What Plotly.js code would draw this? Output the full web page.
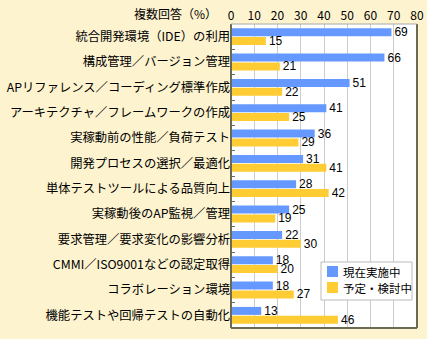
<!DOCTYPE html>
<html><head><meta charset="utf-8">
<script src="https://cdn.plot.ly/plotly-3.0.1.min.js"></script>
<style>html,body{margin:0;padding:0;background:#fdf3cf;}</style>
</head><body><div id="chart" style="width:427px;height:339px;"></div>
<script>
const categories = ["統合開発環境（IDE）の利用","構成管理／バージョン管理","APリファレンス／コーディング標準作成","アーキテクチャ／フレームワークの作成","実稼動前の性能／負荷テスト","開発プロセスの選択／最適化","単体テストツールによる品質向上","実稼動後のAP監視／管理","要求管理／要求変化の影響分析","CMMI／ISO9001などの認定取得","コラボレーション環境","機能テストや回帰テストの自動化"];
const current = [69,66,51,41,36,31,28,25,22,18,18,13];
const planned = [15,21,22,25,29,41,42,19,30,20,27,46];
const seriesNames = ["現在実施中","予定・検討中"];
const seriesColors = ['#6699ff','#ffcc33'];
const xTicks = [0,10,20,30,40,50,60,70,80];
const axisLabel = "複数回答（%）";

const font = "Noto Sans CJK JP, sans-serif";
const numFont = 'Liberation Sans, Arial, sans-serif';
const data = [0,1].map(i => ({
  type:'bar', orientation:'h', name:seriesNames[i], y:categories, x:[current,planned][i],
  text:[current,planned][i].map(String), textposition:'outside', cliponaxis:false, constraintext:'none',
  textfont:{size:12,color:'#000', family:numFont}, marker:{color:seriesColors[i]}
}));

// custom legend placed in paper coords (plot area 231..417 x 24..328 px)
const px = x => (x-231)/186, py = y => (328-y)/304;
const shapes = [
  {type:'rect', xref:'paper', yref:'paper', x0:px(321), x1:px(412), y0:py(300), y1:py(262), fillcolor:'#ffffff', line:{color:'#bbbbbb', width:1}, layer:'above'},
  {type:'rect', xref:'paper', yref:'paper', x0:px(327), x1:px(338), y0:py(277), y1:py(266), fillcolor:seriesColors[0], line:{width:0}, layer:'above'},
  {type:'rect', xref:'paper', yref:'paper', x0:px(327), x1:px(338), y0:py(293), y1:py(282), fillcolor:seriesColors[1], line:{width:0}, layer:'above'},
  {type:'line', xref:'paper', yref:'paper', x0:0, x1:0, y0:0, y1:1, line:{color:'#6b6b55', width:2}},
  {type:'line', xref:'paper', yref:'paper', x0:0, x1:1, y0:0, y1:0, line:{color:'#6b6b55', width:2}},
  {type:'line', xref:'paper', yref:'paper', x0:1, x1:1, y0:0, y1:1, line:{color:'#6b6b55', width:2}},
  {type:'line', xref:'paper', yref:'paper', x0:0, x1:1, y0:1, y1:1, line:{color:'#aaaaaa', width:1}}
];
const annotations = [
  {xref:'paper', yref:'paper', x:0, y:1, xanchor:'right', yanchor:'middle', yshift:11, xshift:-12,
   text:axisLabel, showarrow:false, font:{size:12, family:font}},
  {xref:'paper', yref:'paper', x:px(341), y:py(271.5), xanchor:'left', yanchor:'middle', text:seriesNames[0], showarrow:false, font:{size:11.5, family:font}},
  {xref:'paper', yref:'paper', x:px(341), y:py(287.5), xanchor:'left', yanchor:'middle', text:seriesNames[1], showarrow:false, font:{size:11.5, family:font}}
];

const layout = {
  width:427, height:339,
  margin:{l:231, r:10, t:24, b:11, autoexpand:false},
  paper_bgcolor:'#fdf3cf', plot_bgcolor:'#ffffff',
  font:{family:font, size:12, color:'#000'},
  barmode:'group', bargap:0.3, bargroupgap:0.1,
  showlegend:false,
  xaxis:{side:'top', range:[0,80], tickvals:xTicks, ticktext:xTicks.map(String), showgrid:true, gridcolor:'#cccccc', gridwidth:1,
         zeroline:false, ticks:'', tickfont:{size:12, family:font}, fixedrange:true, automargin:false, ticklabelstandoff:1},
  yaxis:{autorange:'reversed', ticks:'inside', tickson:'boundaries', ticklen:4, tickcolor:'#6b6b55', showgrid:false,
         tickfont:{size:12.3, family:font}, automargin:false},
  annotations, shapes
};
Plotly.newPlot('chart', data, layout, {displayModeBar:false, staticPlot:true});
</script></body></html>
